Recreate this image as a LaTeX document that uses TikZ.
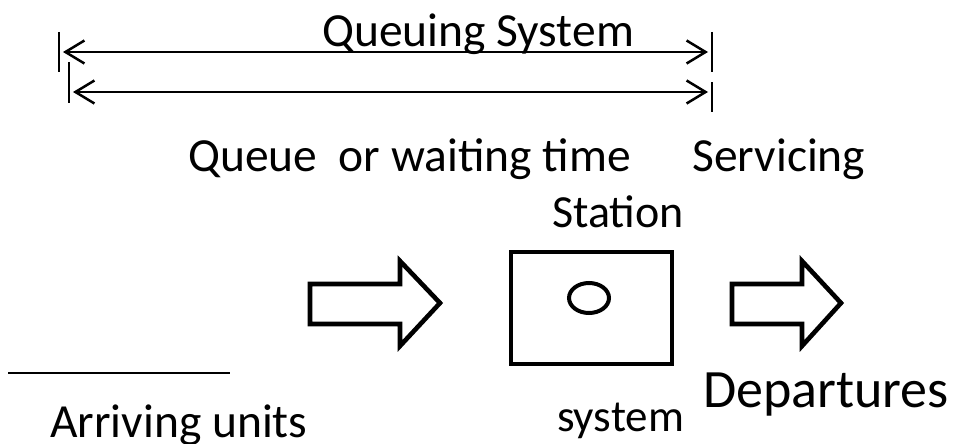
\documentclass[tikz,border=0pt]{standalone}
\usepackage{fontspec}
\setmainfont{Carlito}
\usetikzlibrary{arrows.meta}
\tikzset{
  label text/.style={anchor=base west, inner sep=0pt, font=\fontsize{47.5}{56}\selectfont},
  span line/.style={line width=2.5pt, {Straight Barb[length=19pt,width=23pt,line width=2.5pt]}-{Straight Barb[length=19pt,width=23pt,line width=2.5pt]}},
  end bar/.style={line width=2pt},
  block/.style={line width=4.6pt, miter limit=10},
}
\begin{document}
\begin{tikzpicture}[x=1pt,y=-1pt]
  \useasboundingbox (0,0) rectangle (961,444);

  % dimension lines at the top
  \coordinate (qs-l) at (63,52);   \coordinate (qs-r) at (708,52);
  \coordinate (qw-l) at (73,92);   \coordinate (qw-r) at (708,92);
  \draw[end bar] (59,32) -- (59,72);
  \draw[end bar] (69,62) -- (69,103);
  \draw[end bar] (712,32) -- (712,72);
  \draw[end bar] (712,82) -- (712,112);
  \draw[span line] (qs-l) -- (qs-r);
  \draw[span line] (qw-l) -- (qw-r);

  % labels
  \node[label text] (qsys)  at (322,47)  {Queuing System};
  \node[label text] (queue) at (188,171) {Queue\ \ or waiting time};
  \node[label text] (serv)  at (692,171) {Servicing};
  \node[label text, font=\fontsize{46}{54}\selectfont] (stat) at (552,227) {Station};
  \node[label text] (arr)   at (50,437)  {Arriving units};
  \node[label text, font=\fontsize{45}{52}\selectfont] (sys) at (557,431) {system};
  \node[label text, font=\fontsize{54}{62}\selectfont] (dep) at (703,407) {Departures};

  % incoming block arrow
  \draw[block] (310,284) -- (400,284) -- (400,261) -- (440,303)
               -- (400,346) -- (400,324) -- (310,324) -- cycle;

  % service station with one server
  \draw[block] (511,252) rectangle (672,364);
  \draw[line width=4pt] (589,298) ellipse [x radius=20, y radius=15];

  % outgoing block arrow
  \draw[block] (732,284) -- (802,284) -- (802,261) -- (841,303)
               -- (802,346) -- (802,324) -- (732,324) -- cycle;

  % short rule above the arrivals label
  \draw[line width=2pt] (8,373) -- (230,373);
\end{tikzpicture}
\end{document}
